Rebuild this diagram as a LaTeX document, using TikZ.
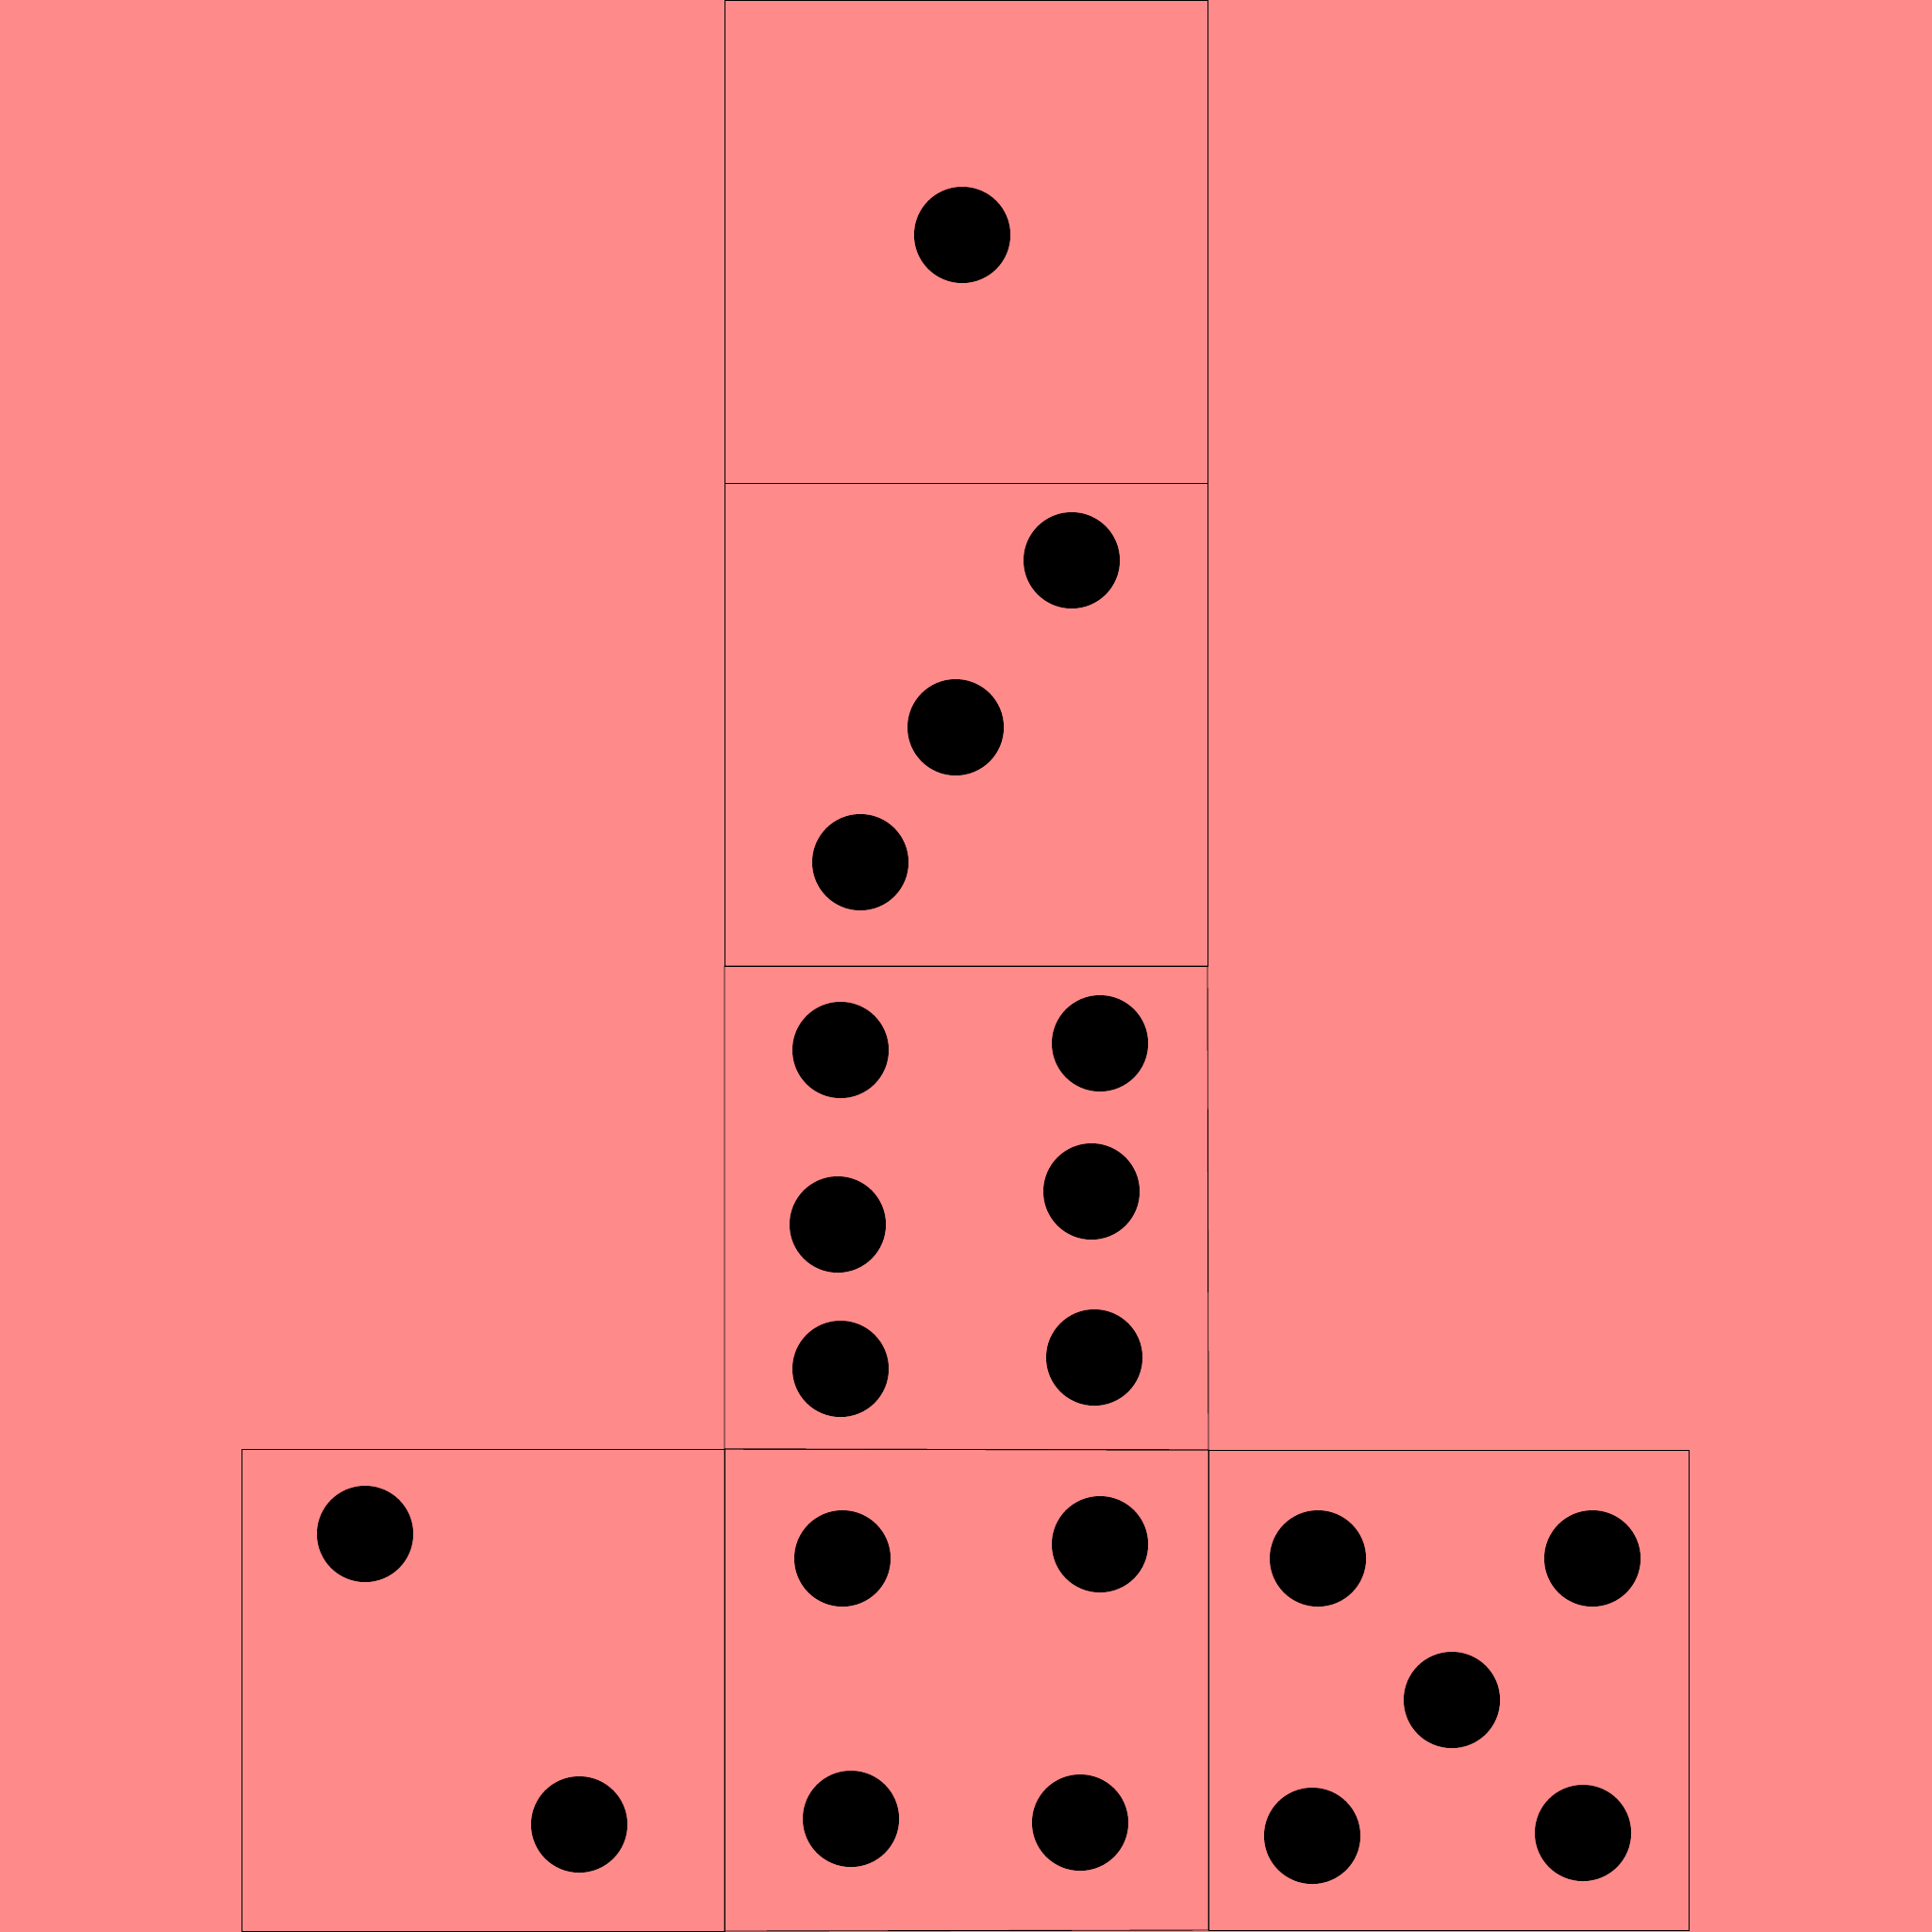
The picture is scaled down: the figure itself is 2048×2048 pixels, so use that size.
\documentclass[tikz,border=0pt]{standalone}
\definecolor{bg}{RGB}{255,138,138}
\begin{document}
\begin{tikzpicture}[x=0.01cm,y=-0.01cm,
  face/.style={draw=black,line width=0.25pt},
  pip/.style={fill=black}]
\fill[bg] (0,0) rectangle (2048,2048);
\useasboundingbox (0,0) rectangle (2048,2048);
% faces
\draw[face] (768,0) rectangle (1280,512);
\draw[face] (768,512) rectangle (1280,1024);
\draw[face] (768,1024) -- (1280,1024) -- (1281,1537) -- (768,1536) -- cycle;
\draw[face] (256,1536) rectangle (768,2047);
\draw[face] (768,1536) -- (1281,1537) -- (1281,2046) -- (768,2047) -- cycle;
\draw[face] (1281,1537) rectangle (1790,2046);
% pips
\foreach \x/\y in {
  1020/249,
  1136/594, 1013/771, 912/914,
  891/1113, 1166/1106, 888/1298, 1157/1263, 891/1451, 1160/1439,
  387/1626, 614/1934,
  893/1652, 1166/1637, 902/1928, 1145/1932,
  1397/1652, 1688/1652, 1539/1802, 1391/1946, 1678/1943}
  \fill[pip] (\x,\y) circle[radius=51];
\end{tikzpicture}
\end{document}
